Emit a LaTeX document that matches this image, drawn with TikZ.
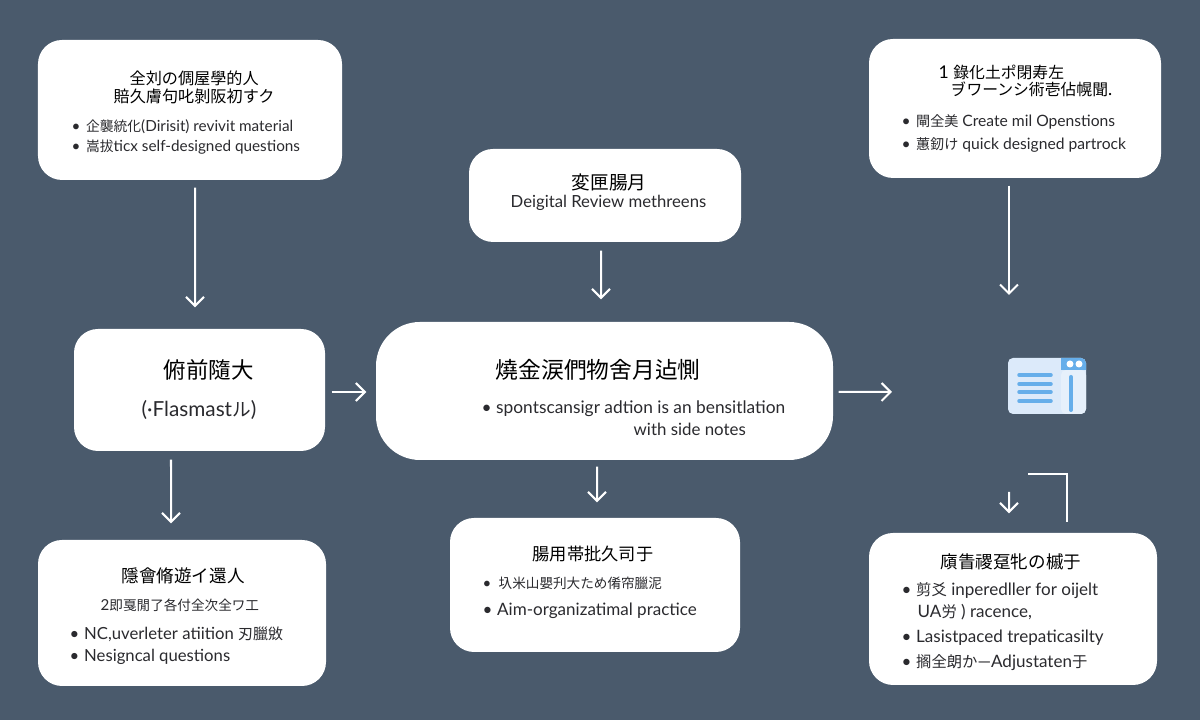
\documentclass[tikz,border=0pt]{standalone}
\usepackage{fontspec}
\setmainfont{Lato}
\newfontfamily\cjk[Scale=0.9]{Noto Sans CJK JP}
\usetikzlibrary{arrows.meta}
\usetikzlibrary{positioning}
\definecolor{mslate}{HTML}{4A5A6C}
\definecolor{mink}{HTML}{2A2A2E}
\definecolor{mpanel}{HTML}{DCEAFA}
\definecolor{mside}{HTML}{E6F0FB}
\definecolor{msky}{HTML}{66AEEA}
\tikzset{card/.style = {fill=white, inner sep=0, rounded corners=0.24cm}}
\tikzset{head/.style = {anchor=west, inner sep=0, yshift=0.01cm, text=black, text height=1.4ex, text depth=0.4ex, font=\fontsize{5.1}{6}\selectfont}}
\tikzset{line/.style = {anchor=west, inner sep=0, yshift=0.02cm, text=mink, text height=1.4ex, text depth=0.4ex, font=\fontsize{4.85}{6}\selectfont}}
\tikzset{arr/.style = {draw=white, line width=0.02cm, -{Straight Barb[length=0.09cm, width=0.18cm]}}}
\newcommand{\jp}[1]{{\cjk #1}}
\newcommand{\itm}{\makebox[0.145cm][l]{•}}
\begin{document}
\begin{tikzpicture}
      \fill [mslate] (0, 0) rectangle (12, 7.2);
      \useasboundingbox (0, 0) rectangle (12, 7.2);

      \node [card, minimum width=3.04cm, minimum height=1.40cm] (selfstudy) at (1.90, 6.10) {};
      \node [card, minimum width=2.72cm, minimum height=0.93cm] (digital) at (6.05, 5.245) {};
      \node [card, minimum width=2.92cm, minimum height=1.39cm] (create) at (10.15, 6.115) {};
      \node [card, minimum width=2.51cm, minimum height=1.22cm] (flash) at (1.995, 3.30) {};
      \node [card, rounded corners=0.44cm, minimum width=4.57cm, minimum height=1.38cm] (core) at (6.045, 3.29) {};
      \node [card, minimum width=2.88cm, minimum height=1.46cm] (design) at (1.82, 1.07) {};
      \node [card, minimum width=2.90cm, minimum height=1.34cm] (organize) at (5.95, 1.35) {};
      \node [card, minimum width=2.88cm, minimum height=1.52cm] (pace) at (10.13, 1.11) {};

      \node [head] (selfstudya) at (1.29, 6.43) {\jp{全刘の倜屋學的人}};
      \node [head] (selfstudyb) at (1.13, 6.25) {\jp{賠久膚句叱剝阪初すク}};
      \node [line, font=\fontsize{4.35}{5}\selectfont] (selfstudyc) at (0.71, 5.95) {\itm\jp{企襲統化}(Dirisit) revivit material};
      \node [line, font=\fontsize{4.35}{5}\selectfont] (selfstudyd) at (0.71, 5.75) {\itm\jp{嵩拔}ticx self-designed questions};

      \node [head, font=\fontsize{5.9}{7}\selectfont] (digitala) at (5.71, 5.38) {\jp{変匣腸月}};
      \node [line, font=\fontsize{4.75}{6}\selectfont] (digitalb) at (5.10, 5.19) {Deigital Review methreens};

      \node [head, font=\fontsize{5}{6}\selectfont] (createa) at (9.38, 6.49) {1 \jp{錄化土ポ閉寿左}};
      \node [head, font=\fontsize{5}{6}\selectfont] (createb) at (9.50, 6.32) {\jp{ヺワーンシ術壱佔幌聞}.};
      \node [line, font=\fontsize{4.45}{5}\selectfont] (createc) at (9.01, 6.00) {\itm\jp{閘全美} Create mil Openstions};
      \node [line, font=\fontsize{4.45}{5}\selectfont] (created) at (9.01, 5.77) {\itm\jp{蕙釰け} quick designed partrock};

      \node [head, font=\fontsize{7.1}{8}\selectfont] (flasha) at (1.63, 3.49) {\jp{俯前隨大}};
      \node [line, font=\fontsize{5.9}{7}\selectfont] (flashb) at (1.41, 3.10) {(·Flasmast\jp{ル})};

      \node [head, font=\fontsize{7.2}{8}\selectfont] (corea) at (4.95, 3.49) {\jp{燒金涙們物舍月迠惻}};
      \node [line, font=\fontsize{4.93}{6}\selectfont] (coreb) at (4.81, 3.13) {\itm spontscansigr adtion is an bensitlation};
      \node [line, font=\fontsize{4.8}{6}\selectfont] (corec) at (6.33, 2.91) {with side notes};

      \node [head, font=\fontsize{5.55}{7}\selectfont] (designa) at (1.21, 1.45) {\jp{隱會脩遊イ還人}};
      \node [line, font=\fontsize{4.3}{5}\selectfont] (designb) at (1.00, 1.16) {2\jp{即戛閒了各付全次全ワ工}};
      \node [line, font=\fontsize{4.75}{6}\selectfont] (designc) at (0.69, 0.87) {\itm NC,uverleter atiition \jp{刃臘敓}};
      \node [line, font=\fontsize{4.75}{6}\selectfont] (designd) at (0.69, 0.65) {\itm Nesigncal questions};

      \node [head, font=\fontsize{5.45}{7}\selectfont] (organizea) at (5.32, 1.67) {\jp{腸用帯批久司于}};
      \node [line, font=\fontsize{4.3}{5}\selectfont] (organizeb) at (4.82, 1.38) {\makebox[0.16cm][l]{•}\jp{圦米山嬰刋大ため倄帘臘泥}};
      \node [line] (organizec) at (4.82, 1.11) {\itm Aim-organizatimal practice};

      \node [head, font=\fontsize{5.55}{7}\selectfont] (pacea) at (9.40, 1.59) {\jp{廎眚禝趸牝の槭于}};
      \node [line] (paceb) at (9.01, 1.31) {\itm\jp{剪爻} inperedller for oijelt};
      \node [line] (pacec) at (9.17, 1.09) {UA\jp{労} ) racence,};
      \node [line] (paced) at (9.01, 0.84) {\itm Lasistpaced trepaticasilty};
      \node [line] (pacee) at (9.01, 0.59) {\itm\jp{搁全朗か}—Adjustaten\jp{于}};

      \begin{scope}[shift={(10.08, 3.06)}]
        \fill [mpanel, rounded corners=0.05cm] (0, 0) rectangle (0.78, 0.56);
        \fill [mside, rounded corners=0.05cm] (0.53, 0) rectangle (0.78, 0.44);
        \fill [msky] (0.53, 0.56) -- (0.73, 0.56) arc [start angle=90, end angle=0, radius=0.05] -- (0.78, 0.44) -- (0.53, 0.44) -- cycle;
        \fill [white] (0.62, 0.50) circle [radius=0.035];
        \fill [white] (0.71, 0.50) circle [radius=0.035];
        \foreach \y in {0.39, 0.30, 0.22, 0.13}
          \draw [msky, line width=0.035cm, line cap=round] (0.11, \y) -- (0.43, \y);
        \draw [msky, line width=0.04cm, line cap=round] (0.63, 0.37) -- (0.63, 0.04);
      \end{scope}

      \coordinate (iconin) at (10.09, 4.25);
      \coordinate (iconleft) at (8.92, 3.28);
      \coordinate (smalltop) at (10.09, 2.28);
      \coordinate (elbow) at (10.28, 2.46);

      \draw [arr, shorten <=0.07cm, shorten >=0.21cm] ([xshift=0.05cm]selfstudy.south) -- ([xshift=-0.045cm]flash.north);
      \draw [arr, shorten <=0.08cm, shorten >=0.22cm] ([xshift=-0.04cm]digital.south) -- ([xshift=-0.035cm]core.north);
      \draw [arr, shorten <=0.07cm] ([xshift=-0.06cm]create.south) -- (iconin);
      \draw [arr, shorten <=0.06cm, shorten >=0.09cm] ([yshift=-0.02cm]flash.east) -- ([yshift=-0.01cm]core.west);
      \draw [arr, shorten <=0.05cm] ([yshift=-0.01cm]core.east) -- (iconleft);
      \draw [arr, shorten <=0.08cm, shorten >=0.16cm] ([xshift=-0.285cm]flash.south) -- ([xshift=-0.11cm]design.north);
      \draw [arr, shorten <=0.06cm, shorten >=0.15cm] ([xshift=-0.075cm]core.south) -- ([xshift=0.02cm]organize.north);
      \draw [arr, shorten >=0.19cm] (smalltop) -- ([xshift=-0.04cm]pace.north);
      \draw [white, line width=0.025cm, shorten >=0.10cm] (elbow) -| ([xshift=0.54cm]pace.north);
    \end{tikzpicture}
\end{document}
